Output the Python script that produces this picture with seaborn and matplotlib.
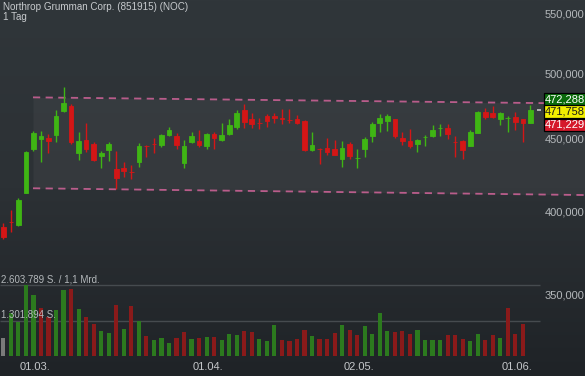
import numpy as np
import pandas as pd
import matplotlib
matplotlib.use("Agg")
import matplotlib.pyplot as plt
import seaborn as sns
from matplotlib.colors import LinearSegmentedColormap

# ---------------- data ----------------
title = "Northrop Grumman Corp. (851915) (NOC)"
subtitle = "1 Tag"

opens = [390.8, 394.2, 392.4, 413.1, 443.2, 450.4, 451.1, 453.3, 471.1, 474.9,
         440.4, 449.7, 446.8, 438.2, 442.5, 429.2, 429.9, 427.1, 434.2, 445.3,
         447.0, 446.1, 453.1, 452.6, 433.3, 448.2, 448.9, 445.3, 454.0, 449.7,
         454.0, 459.2, 471.9, 465.1, 462.3, 467.4, 467.6, 466.1, 464.3, 465.1,
         463.6, 442.5, 443.1, 443.9, 443.2, 436.1, 446.8, 436.7, 443.2, 452.6,
         461.9, 463.6, 465.1, 451.1, 448.9, 447.0, 451.5, 452.6, 458.1, 458.4,
         448.3, 448.9, 445.3, 455.0, 470.4, 469.6, 465.1, 465.8, 466.6, 465.1,
         461.9]
highs = [393.3, 401.8, 409.4, 441.8, 456.2, 456.2, 453.8, 471.9, 489.4, 476.5,
         455.3, 461.9, 448.4, 441.8, 448.2, 441.6, 434.0, 432.0, 447.3, 446.0,
         450.9, 454.0, 459.0, 454.6, 449.7, 455.3, 457.0, 454.6, 455.7, 461.9,
         465.1, 471.9, 476.3, 469.4, 466.1, 468.9, 469.4, 472.6, 472.4, 468.1,
         464.4, 455.5, 443.9, 450.9, 449.7, 448.9, 448.2, 443.2, 451.8, 462.9,
         468.9, 468.9, 465.1, 455.3, 457.5, 450.2, 453.1, 460.4, 461.4, 461.2,
         452.6, 449.4, 457.0, 470.9, 473.4, 475.2, 470.4, 467.4, 470.6, 465.1,
         475.7]
lows = [383.3, 388.0, 391.8, 412.7, 442.0, 434.2, 440.2, 448.4, 470.6, 446.8,
        435.6, 440.9, 434.7, 429.7, 434.9, 415.4, 423.5, 422.3, 430.8, 437.3,
        440.6, 444.9, 452.4, 443.0, 430.1, 447.3, 444.9, 443.0, 443.0, 448.9,
        453.3, 457.5, 458.2, 458.2, 457.7, 459.0, 461.9, 461.2, 461.9, 461.6,
        441.6, 441.8, 432.6, 438.9, 438.7, 430.8, 436.3, 430.1, 437.7, 448.4,
        455.7, 456.5, 451.1, 445.9, 443.9, 441.3, 445.5, 451.6, 452.4, 450.2,
        437.7, 435.9, 445.3, 454.8, 465.1, 466.1, 460.6, 455.3, 457.0, 448.2,
        461.9]
closes = [384.9, 393.9, 408.3, 441.1, 454.8, 452.6, 448.9, 467.4, 477.2, 448.4,
          448.9, 443.2, 435.6, 440.4, 446.8, 423.2, 427.8, 426.9, 445.3, 445.1,
          446.8, 453.3, 457.0, 446.1, 445.3, 452.6, 446.1, 454.0, 451.3, 453.3,
          460.6, 469.6, 462.9, 461.4, 462.1, 463.6, 466.1, 465.3, 464.1, 462.4,
          442.5, 446.1, 443.0, 441.1, 438.9, 443.9, 438.2, 436.8, 450.4, 461.4,
          465.9, 467.4, 452.8, 448.9, 445.5, 449.7, 451.6, 457.0, 458.2, 454.0,
          448.2, 442.5, 455.5, 470.4, 466.6, 466.9, 469.6, 465.9, 463.1, 462.1,
          471.758]

volumes = [663000, 1570000, 1260000, 2600000, 2250000, 1780000, 1450000, 1690000, 2420000, 2450000,
           1740000, 1450000, 1180000, 920000, 840000, 1890000, 980000, 1840000, 1300000, 750000,
           590000, 660000, 490000, 660000, 900000, 630000, 650000, 700000, 710000, 580000,
           810000, 770000, 910000, 880000, 630000, 560000, 1140000, 580000, 550000, 610000,
           960000, 740000, 610000, 610000, 840000, 1130000, 960000, 760000, 1090000, 810000,
           1570000, 930000, 880000, 920000, 810000, 940000, 590000, 590000, 590000, 760000,
           760000, 640000, 560000, 800000, 600000, 760000, 660000, 1780000, 810000, 1170000]
vol_dir = ['n', 'u', 'u', 'u', 'u', 'd', 'd', 'u', 'u', 'd',
           'u', 'd', 'd', 'u', 'u', 'd', 'u', 'd', 'u', 'd',
           'u', 'u', 'u', 'd', 'd', 'u', 'd', 'u', 'd', 'u',
           'u', 'u', 'd', 'd', 'u', 'u', 'u', 'd', 'd', 'd',
           'd', 'u', 'd', 'd', 'd', 'u', 'd', 'd', 'u', 'u',
           'u', 'u', 'd', 'd', 'd', 'u', 'u', 'u', 'u', 'd',
           'd', 'd', 'u', 'u', 'd', 'd', 'u', 'd', 'd', 'd']

tick_pos = [4, 27, 47, 68]
tick_labels = ["01.03.", "01.04.", "02.05.", "01.06."]

price_ticks = [550.0, 500.0, 450.0, 400.0, 350.0]
price_tick_labels = ["550,000", "500,000", "450,000", "400,000", "350,000"]

vol_levels = [2603789, 1301894]
vol_level_labels = ["2.603.789 S. / 1,1 Mrd.", "1.301.894 S."]

channel_x = [3.94, 77.25]
channel_upper = [481.6, 476.8]
channel_lower = [416.1, 411.6]

quote_values = ["472,288", "471,758", "471,229"]
last_price = 471.758

# ---------------- style ----------------
sns.set_theme(style="dark")
plt.rcParams["font.family"] = ["Liberation Sans", "DejaVu Sans"]

GREEN = "#3fb514"
RED = "#d41616"
VGREEN = "#2c7a1e"
VRED = "#8a1a1a"
VGRAY = "#7a7a7a"
TXT = "#b4b8bb"

W, H = 585, 376
fig = plt.figure(figsize=(W / 100, H / 100), dpi=100)

# background gradient
bg = fig.add_axes([0, 0, 1, 1])
bg.set_axis_off()
grad = np.linspace(0, 1, 256).reshape(-1, 1)
cmap = LinearSegmentedColormap.from_list("bg", ["#30363a", "#2c3135", "#1f2327"])
bg.imshow(grad, aspect="auto", cmap=cmap, extent=[0, 1, 0, 1], origin="upper")

XL = (-0.44, 77.25)

# price axes
ax = fig.add_axes([0, 0, 1, 1])
ax.patch.set_alpha(0)
ax.set_yscale("log")
ax.set_xlim(*XL)
ax.set_ylim(307.7, 563.2)
ax.set_axis_off()

# channel
ax.fill_between(channel_x, channel_lower, channel_upper, color="white", alpha=0.045, lw=0, zorder=1)
for ys in (channel_upper, channel_lower):
    sns.lineplot(x=channel_x, y=ys, ax=ax, color="#d2649a", lw=1.3,
                 linestyle=(0, (4, 3)), alpha=0.85, zorder=2)

o = np.array(opens); c = np.array(closes); h = np.array(highs); l = np.array(lows)
idx = np.arange(len(o))
cols = np.where(c >= o, GREEN, RED)
ax.vlines(idx, l, h, colors=cols, lw=1.0, zorder=3)
ax.bar(idx, np.abs(c - o), bottom=np.minimum(o, c), width=0.62, color=cols,
       edgecolor=cols, linewidth=0.6, zorder=4)

# last-price dash
ax.hlines(last_price, 70.9, 71.4, colors="#c8c8c8", lw=1.2, zorder=4)

# right price labels
ytr = ax.get_yaxis_transform()
for p, s in zip(price_ticks, price_tick_labels):
    ax.text(545 / W, p, s, transform=ytr, ha="left", va="center",
            fontsize=8, color=TXT, zorder=5)

# date labels
xtr = ax.get_xaxis_transform()
for p, s in zip(tick_pos, tick_labels):
    ax.text(p + 0.2, 1 - 367 / H, s, transform=xtr, ha="center", va="center",
            fontsize=8, color="#c4c7ca")

# volume axes
axv = fig.add_axes([0, 20 / H, 1, 86 / H])
axv.patch.set_alpha(0)
dfv = pd.DataFrame({"idx": np.arange(len(volumes)), "vol": volumes, "dir": vol_dir})
sns.barplot(data=dfv, x="idx", y="vol", hue="dir", native_scale=True, dodge=False,
            palette={"u": VGREEN, "d": VRED, "n": VGRAY}, width=0.55, saturation=1,
            errorbar=None, legend=False, ax=axv, zorder=3, linewidth=0, edgecolor="none")
axv.hlines(vol_levels, XL[0], 71.27, colors="#464b4f", lw=1.0, zorder=1)
axv.set_xlim(*XL)
axv.set_ylim(0, 86 / 70.7 * 2603789)
axv.set_axis_off()

fig.text(1 / W, 1 - 279.5 / H, vol_level_labels[0], fontsize=7.0, color=TXT,
         ha="left", va="center")
fig.text(1 / W, 1 - 314.5 / H, vol_level_labels[1], fontsize=7.0, color=TXT,
         ha="left", va="center")

# title
fig.text(3 / W, 1 - 7.5 / H, title, fontsize=7.1, color="#c8cbce", ha="left", va="center")
fig.text(3 / W, 1 - 17 / H, subtitle, fontsize=7.1, color="#c8cbce", ha="left", va="center")

# quote boxes
boxes = [("#0b6b0b", "white", 99.2), ("#f2ee00", "#1a1a1a", 111.6), ("#d5192b", "white", 125.0)]
for (fc, tc, yc), s in zip(boxes, quote_values):
    fig.text(545 / W, 1 - yc / H, s, fontsize=8, color=tc, ha="left", va="center",
             bbox=dict(boxstyle="square,pad=0.12", fc=fc, ec="black", lw=0.9), zorder=10)

fig.savefig("out.png", dpi=100)
